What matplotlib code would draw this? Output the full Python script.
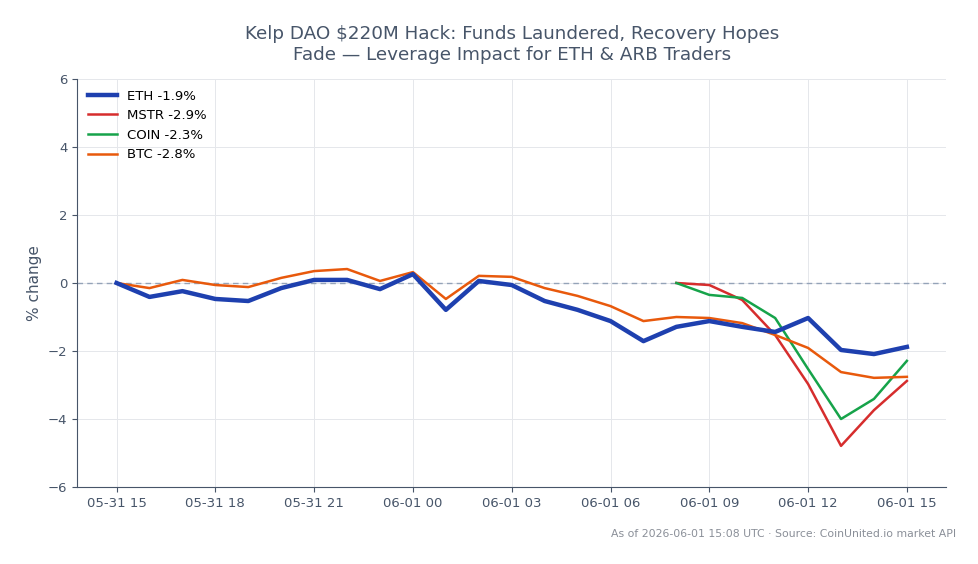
import numpy as np
import pandas as pd
import matplotlib
matplotlib.use("Agg")
import matplotlib.pyplot as plt
import matplotlib.dates as mdates

# hourly timestamps, 05-31 15:00 -> 06-01 15:00 UTC
times = pd.date_range("2026-05-31 15:00", "2026-06-01 15:00", freq="h")
times_short = times[17:]  # MSTR / COIN start at 06-01 08

eth = [0.0, -0.41, -0.24, -0.47, -0.53, -0.15, 0.09, 0.09, -0.18, 0.26,
       -0.79, 0.06, -0.06, -0.53, -0.79, -1.12, -1.71, -1.29, -1.12, -1.29,
       -1.44, -1.03, -1.97, -2.09, -1.88]
btc = [0.0, -0.15, 0.09, -0.06, -0.12, 0.15, 0.35, 0.41, 0.06, 0.32,
       -0.47, 0.21, 0.18, -0.15, -0.38, -0.68, -1.12, -1.0, -1.03, -1.18,
       -1.53, -1.91, -2.62, -2.79, -2.76]
mstr = [0.0, -0.06, -0.5, -1.53, -2.97, -4.79, -3.74, -2.88]
coin = [0.0, -0.35, -0.44, -1.03, -2.53, -4.0, -3.41, -2.29]

slate = "#475569"

fig = plt.figure(figsize=(9.79, 5.64), dpi=100)
ax = fig.add_axes([0.0787, 0.1365, 0.888, 0.7235])

ax.plot(times, eth, color="#1e40af", lw=3.2, label="ETH -1.9%", zorder=4)
ax.plot(times_short, mstr, color="#d62d2d", lw=1.8, label="MSTR -2.9%", zorder=3)
ax.plot(times_short, coin, color="#16a34a", lw=1.8, label="COIN -2.3%", zorder=3)
ax.plot(times, btc, color="#e8590c", lw=1.8, label="BTC -2.8%", zorder=3)
ax.axhline(0, color="#94a3b8", lw=1, ls=(0, (4, 3)), zorder=1)

ax.set_ylim(-6, 6)
ax.set_yticks([-6, -4, -2, 0, 2, 4, 6])
ax.xaxis.set_major_locator(mdates.HourLocator(byhour=[0, 3, 6, 9, 12, 15, 18, 21]))
ax.xaxis.set_major_formatter(mdates.DateFormatter("%m-%d %H"))
ax.margins(x=0.05)

ax.grid(True, color="#e5e7eb", lw=0.7)
ax.set_axisbelow(True)
for s in ["top", "right"]:
    ax.spines[s].set_visible(False)
for s in ["left", "bottom"]:
    ax.spines[s].set_color(slate)
ax.tick_params(colors=slate, labelsize=9.5)
ax.set_ylabel("% change", color=slate, fontsize=11)

ax.set_title("Kelp DAO $220M Hack: Funds Laundered, Recovery Hopes\nFade \u2014 Leverage Impact for ETH & ARB Traders",
             color=slate, fontsize=13.2, pad=14)
ax.legend(loc="upper left", frameon=False, fontsize=9.5, handlelength=2.2,
          borderaxespad=0.4)

fig.text(0.977, 0.045, "As of 2026-06-01 15:08 UTC \u00b7 Source: CoinUnited.io market API",
         ha="right", va="bottom", color="#8a8f98", fontsize=7.8)

fig.savefig("out.png", dpi=100)
